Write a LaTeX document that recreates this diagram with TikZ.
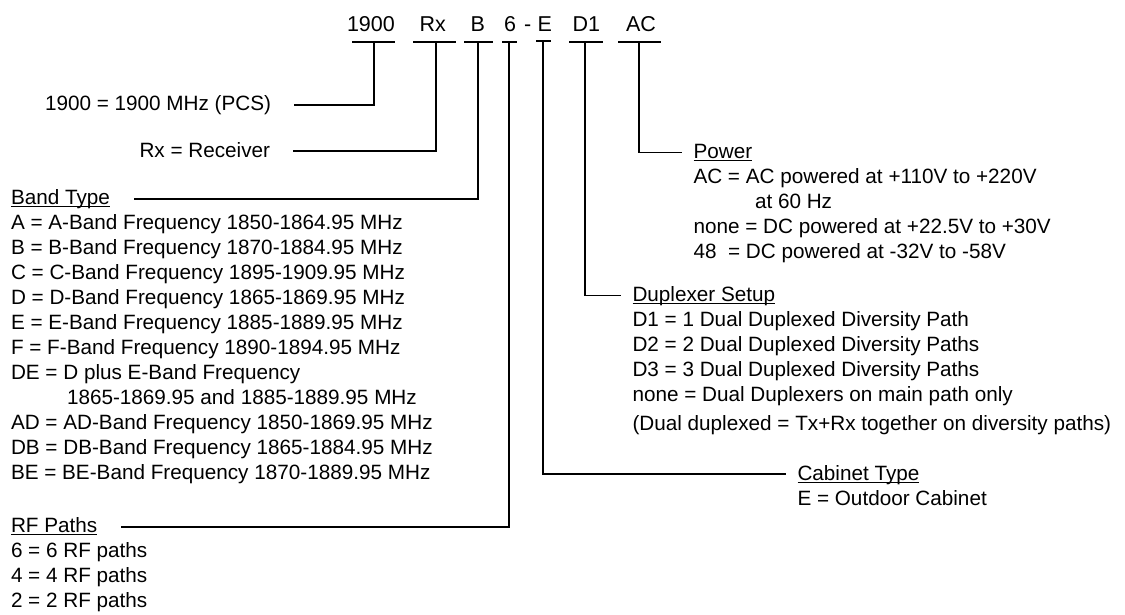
\documentclass[tikz,border=0pt]{standalone}
\usepackage{fontspec}
\setmainfont{Liberation Sans}
\newsavebox\ulbox
\newcommand\myul[1]{\sbox\ulbox{#1}\rlap{\rule[-2.6pt]{\wd\ulbox}{1pt}}\usebox\ulbox}
\begin{document}
\begin{tikzpicture}[x=1pt,y=-1pt,
  txt/.style={anchor=base west,inner sep=0pt,outer sep=0pt,font=\fontsize{20.7}{25}\selectfont},
  code/.style={txt,font=\fontsize{21.5}{25}\selectfont},
  ln/.style={line width=1.3pt}]
\useasboundingbox (0,0) rectangle (1125,614);

% ---- code at top
\node[code] (c1900) at (347,31.5) {1900};
\node[code] (cRx)   at (419.5,31.5) {Rx};
\node[code] (cB)    at (470.5,31.5) {B};
\node[code] (c6)    at (504,31.5) {6};
\node[code] (cdash) at (524,31.5) {-};
\node[code] (cE)    at (537.5,31.5) {E};
\node[code] (cD1)   at (572.5,31.5) {D1};
\node[code] (cAC)   at (626,31.5) {AC};

% ---- left texts
\node[txt] (t1900) at (45,110.5) {1900 = 1900 MHz (PCS)};
\node[txt] (tRx) at (139.5,157.5) {Rx = Receiver};

\node[txt] (band) at (11,204.5) {\myul{Band Type}};
\node[txt] (b1) at (11,229.5) {A = A-Band Frequency 1850-1864.95 MHz};
\node[txt] (b2) at (11,254.5) {B = B-Band Frequency 1870-1884.95 MHz};
\node[txt] (b3) at (11,279.5) {C = C-Band Frequency 1895-1909.95 MHz};
\node[txt] (b4) at (11,304.5) {D = D-Band Frequency 1865-1869.95 MHz};
\node[txt] (b5) at (11,329.5) {E = E-Band Frequency 1885-1889.95 MHz};
\node[txt] (b6) at (11,354.5) {F = F-Band Frequency 1890-1894.95 MHz};
\node[txt] (b7) at (11,379.5) {DE = D plus E-Band Frequency};
\node[txt] (b8) at (67,404.5) {1865-1869.95 and 1885-1889.95 MHz};
\node[txt] (b9) at (11,429.5) {AD = AD-Band Frequency 1850-1869.95 MHz};
\node[txt] (b10) at (11,454.5) {DB = DB-Band Frequency 1865-1884.95 MHz};
\node[txt] (b11) at (11,479.5) {BE = BE-Band Frequency 1870-1889.95 MHz};

\node[txt] (rf) at (11,532.5) {\myul{RF Paths}};
\node[txt] (rf1) at (11,557.5) {6 = 6 RF paths};
\node[txt] (rf2) at (11,582.5) {4 = 4 RF paths};
\node[txt] (rf3) at (11,607.5) {2 = 2 RF paths};

% ---- right texts
\node[txt] (pw) at (693.5,158.5) {\myul{Power}};
\node[txt] (pw1) at (693.5,183.5) {AC = AC powered at +110V to +220V};
\node[txt] (pw2) at (755,208.5) {at 60 Hz};
\node[txt] (pw3) at (693.5,233.5) {none = DC powered at +22.5V to +30V};
\node[txt] (pw4) at (693.5,258.5) {48\ \ = DC powered at -32V to -58V};

\node[txt] (dx) at (632.5,301.5) {\myul{Duplexer Setup}};
\node[txt] (dx1) at (632.5,326.5) {D1 = 1 Dual Duplexed Diversity Path};
\node[txt] (dx2) at (632.5,351.5) {D2 = 2 Dual Duplexed Diversity Paths};
\node[txt] (dx3) at (632.5,376.5) {D3 = 3 Dual Duplexed Diversity Paths};
\node[txt] (dx4) at (632.5,401.5) {none = Dual Duplexers on main path only};
\node[txt] (dx5) at (632.5,430.5) {(Dual duplexed = Tx+Rx together on diversity paths)};

\node[txt] (cb) at (797.5,480.5) {\myul{Cabinet Type}};
\node[txt] (cb1) at (797.5,505.5) {E = Outdoor Cabinet};

% ---- underline bars under code
\coordinate (u1a) at (352,42);   \coordinate (u1b) at (395,42);   \coordinate (j1) at (374,42);
\coordinate (u2a) at (413,42);   \coordinate (u2b) at (456,42);   \coordinate (j2) at (436,42);
\coordinate (u3a) at (464,42);   \coordinate (u3b) at (493,42);   \coordinate (j3) at (478,42);
\coordinate (u4a) at (502,42);   \coordinate (u4b) at (517,42);   \coordinate (j4) at (509,42);
\coordinate (u5a) at (536,41);   \coordinate (u5b) at (551,41);   \coordinate (j5) at (543,41);
\coordinate (u6a) at (569,42);   \coordinate (u6b) at (603,42);   \coordinate (j6) at (585,42);
\coordinate (u7a) at (618,42);   \coordinate (u7b) at (661,42);   \coordinate (j7) at (639,42);

\foreach \a/\b in {u1a/u1b,u2a/u2b,u3a/u3b,u4a/u4b,u5a/u5b,u6a/u6b,u7a/u7b}
  \draw[ln] (\a) -- (\b);

% ---- free ends of connectors
\coordinate (e1) at (294,105);
\coordinate (e2) at (293,151);
\coordinate (e3) at (134,199);
\coordinate (e4) at (121,527);
\coordinate (e5) at (786,474);
\coordinate (e6) at (621,295.5);
\coordinate (e7) at (682,152.5);

\draw[ln] (j1) |- (e1);
\draw[ln] (j2) |- (e2);
\draw[ln] (j3) |- (e3);
\draw[ln] (j4) |- (e4);
\draw[ln] (j5) |- (e5);
\draw[ln] (j6) |- (e6);
\draw[ln] (j7) |- (e7);
\end{tikzpicture}
\end{document}
